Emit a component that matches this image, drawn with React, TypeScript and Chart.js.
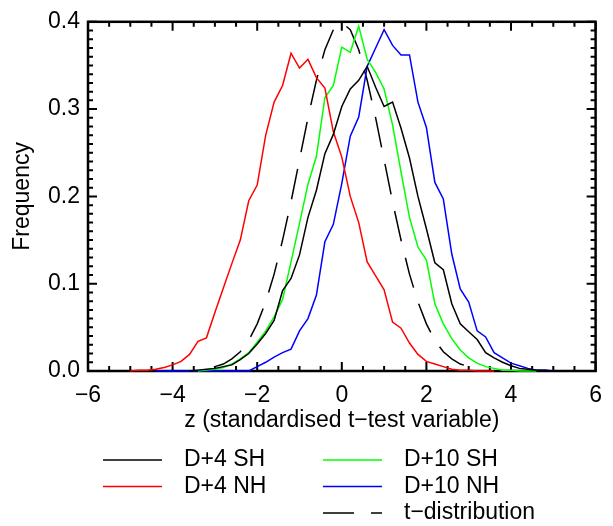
import React, { useEffect, useRef } from "react";
import { Chart, registerables } from "chart.js";

Chart.register(...registerables);

// Bin centres of the histograms (z, standardised t-test variable)
const BINS = [
  -5.0, -4.8, -4.6, -4.4, -4.2, -4.0, -3.8, -3.6, -3.4, -3.2,
  -3.0, -2.8, -2.6, -2.4, -2.2, -2.0, -1.8, -1.6, -1.4, -1.2,
  -1.0, -0.8, -0.6, -0.4, -0.2, 0.0, 0.2, 0.4, 0.6, 0.8,
  1.0, 1.2, 1.4, 1.6, 1.8, 2.0, 2.2, 2.4, 2.6, 2.8,
  3.0, 3.2, 3.4, 3.6, 3.8, 4.0, 4.2, 4.4, 4.6, 4.8, 5.0,
];

const D4_SH = [
  null, null, null, null, null, null, null, 0.000, 0.001, 0.002,
  0.003, 0.005, 0.007, 0.013, 0.020, 0.031, 0.043, 0.058, 0.092, 0.106,
  0.133, 0.176, 0.207, 0.249, 0.271, 0.303, 0.323, 0.333, 0.349, 0.325,
  0.303, 0.308, 0.278, 0.244, 0.200, 0.163, 0.124, 0.116, 0.077, 0.054,
  0.045, 0.036, 0.021, 0.015, 0.010, 0.006, 0.003, 0.002, 0.001, 0.001, 0.000,
];

const D4_NH = [
  0.000, 0.001, 0.001, 0.002, 0.004, 0.007, 0.011, 0.019, 0.034, 0.038,
  0.067, 0.095, 0.123, 0.150, 0.195, 0.213, 0.270, 0.308, 0.327, 0.364,
  0.347, 0.357, 0.336, 0.324, 0.274, 0.245, 0.200, 0.170, 0.125, 0.109,
  0.093, 0.056, 0.049, 0.032, 0.019, 0.011, 0.008, 0.005, 0.002, 0.001,
  0.001, 0.000, 0.000, 0.000, null, null, null, null, null, null, null,
];

const D10_SH = [
  null, null, null, null, null, null, null, null, 0.000, 0.001,
  0.002, 0.004, 0.008, 0.014, 0.021, 0.033, 0.046, 0.062, 0.082, 0.125,
  0.169, 0.214, 0.246, 0.313, 0.327, 0.371, 0.365, 0.395, 0.357, 0.342,
  0.323, 0.282, 0.228, 0.176, 0.142, 0.127, 0.077, 0.054, 0.037, 0.024,
  0.015, 0.009, 0.005, 0.003, 0.001, 0.001, 0.000, 0.000, 0.000, null, null,
];

const D10_NH = [
  null, null, null, 0.000, 0.000, 0.000, 0.000, 0.000, 0.000, 0.000,
  0.000, 0.000, 0.000, 0.000, 0.000, 0.005, 0.010, 0.016, 0.021, 0.025,
  0.046, 0.060, 0.087, 0.148, 0.168, 0.215, 0.269, 0.291, 0.349, 0.370,
  0.391, 0.373, 0.362, 0.362, 0.308, 0.279, 0.216, 0.197, 0.134, 0.094,
  0.079, 0.046, 0.039, 0.021, 0.015, 0.009, 0.006, 0.003, 0.001, 0.001, 0.000,
];

const T_DIST = [
  null, null, null, null, null, null, null, null, null, null,
  0.005, 0.008, 0.014, 0.022, 0.035, 0.054, 0.079, 0.111, 0.150, 0.194,
  0.242, 0.290, 0.333, 0.368, 0.391, 0.399, 0.391, 0.368, 0.333, 0.290,
  0.242, 0.194, 0.150, 0.111, 0.079, 0.054, 0.035, 0.022, 0.014, 0.008,
  0.005, null, null, null, null, null, null, null, null, null, null,
];

const SERIES_LABELS = ["D+4 SH", "D+4 NH", "D+10 SH", "D+10 NH", "t\u2212distribution"];
const SERIES_COLORS = ["#000000", "#ff0000", "#00ff00", "#0000ff", "#000000"];

const X_MIN = -6;
const X_MAX = 6;
const Y_MIN = 0;
const Y_MAX = 0.4;

const FONT = "'Liberation Sans', Arial, Helvetica, sans-serif";
const FS = 23;

const isMajorX = (v: number) => Math.abs(v / 2 - Math.round(v / 2)) < 1e-6;
const isMajorY = (v: number) => Math.abs(v * 10 - Math.round(v * 10)) < 1e-6;

const framePlugin = {
  id: "frame",
  beforeDatasetsDraw(chart: any) {
    const { ctx, chartArea: a, scales } = chart;
    const x = scales.x;
    const y = scales.y;
    ctx.save();
    ctx.strokeStyle = "#000";
    ctx.lineWidth = 2;
    ctx.beginPath();
    for (const t of x.ticks) {
      const px = x.getPixelForValue(t.value);
      const len = isMajorX(t.value) ? 9 : 5;
      ctx.moveTo(px, a.bottom);
      ctx.lineTo(px, a.bottom - len);
      ctx.moveTo(px, a.top);
      ctx.lineTo(px, a.top + len);
    }
    for (const t of y.ticks) {
      const py = y.getPixelForValue(t.value);
      const len = isMajorY(t.value) ? 9 : 5;
      ctx.moveTo(a.left, py);
      ctx.lineTo(a.left + len, py);
      ctx.moveTo(a.right, py);
      ctx.lineTo(a.right - len, py);
    }
    ctx.stroke();
    ctx.lineWidth = 2.5;
    ctx.strokeRect(a.left, a.top, a.right - a.left, a.bottom - a.top);
    ctx.restore();
  },
};

const legendPlugin = {
  id: "customLegend",
  afterDraw(chart: any) {
    const { ctx, chartArea: a } = chart;
    const cols = [a.left + 15, a.left + 235];
    const rows = [460, 486.5, 513];
    const lineLen = 59;
    const textGap = 22;
    const pos = [
      [0, 0],
      [0, 1],
      [1, 0],
      [1, 1],
      [1, 2],
    ];
    ctx.save();
    chart.data.datasets.forEach((ds: any, i: number) => {
      const [c, r] = pos[i];
      const x0 = cols[c];
      const yy = rows[r];
      ctx.strokeStyle = ds.borderColor;
      ctx.lineWidth = 1.5;
      ctx.setLineDash(ds.borderDash || []);
      ctx.beginPath();
      ctx.moveTo(x0, yy);
      ctx.lineTo(x0 + lineLen, yy);
      ctx.stroke();
      ctx.setLineDash([]);
      ctx.fillStyle = "#000";
      ctx.font = `${FS}px ${FONT}`;
      ctx.textAlign = "left";
      ctx.textBaseline = "middle";
      ctx.fillText(ds.label, x0 + lineLen + textGap, yy);
    });
    ctx.restore();
  },
};

export default function App() {
  const ref = useRef<HTMLCanvasElement | null>(null);

  useEffect(() => {
    if (!ref.current) return;
    const seriesValues = [D4_SH, D4_NH, D10_SH, D10_NH, T_DIST];
    const datasets = seriesValues.map((vals, i) => ({
      label: SERIES_LABELS[i],
      data: BINS.map((z, k) => ({ x: z, y: vals[k] })),
      borderColor: SERIES_COLORS[i],
      backgroundColor: SERIES_COLORS[i],
      borderWidth: 1.5,
      borderDash: i === 4 ? [31, 17] : [],
      pointRadius: 0,
      tension: 0,
      fill: false,
      spanGaps: false,
      clip: false as any,
    }));

    const chart = new Chart(ref.current, {
      type: "line",
      data: { datasets },
      options: {
        animation: false,
        responsive: false,
        devicePixelRatio: 1,
        layout: { padding: { left: 0, right: 13, top: 15, bottom: 92 } },
        plugins: {
          legend: { display: false },
          tooltip: { enabled: false },
        },
        scales: {
          x: {
            type: "linear",
            min: X_MIN,
            max: X_MAX,
            grid: { display: false, drawTicks: false },
            border: { display: false },
            ticks: {
              stepSize: 0.5,
              autoSkip: false,
              maxRotation: 0,
              padding: 11,
              color: "#000",
              font: { family: FONT, size: FS },
              callback: (v: any) => {
                const n = Number(v);
                if (!isMajorX(n)) return "";
                const r = Math.round(n);
                return r < 0 ? "\u2212" + Math.abs(r) : String(r);
              },
            },
            title: {
              display: true,
              text: "z (standardised t\u2212test variable)",
              color: "#000",
              font: { family: FONT, size: FS },
              padding: { top: 0, bottom: 0 },
            },
            afterFit: (s: any) => {
              s.height = 63;
            },
          } as any,
          y: {
            type: "linear",
            min: Y_MIN,
            max: Y_MAX,
            grid: { display: false, drawTicks: false },
            border: { display: false },
            ticks: {
              stepSize: 0.01,
              autoSkip: false,
              padding: 8,
              color: "#000",
              font: { family: FONT, size: FS },
              callback: (v: any) => {
                const n = Number(v);
                return isMajorY(n) ? n.toFixed(1) : "";
              },
            },
            title: {
              display: true,
              text: "Frequency",
              color: "#000",
              font: { family: FONT, size: FS },
              padding: { top: 9, bottom: 0 },
            },
            afterFit: (s: any) => {
              s.width = 88;
            },
          } as any,
        },
      },
      plugins: [framePlugin, legendPlugin],
    });
    return () => chart.destroy();
  }, []);

  return (
    <div style={{ position: "absolute", left: 0, top: 0, width: 613, height: 526, background: "#fff" }}>
      <canvas ref={ref} width={613} height={526} style={{ display: "block" }} />
    </div>
  );
}
